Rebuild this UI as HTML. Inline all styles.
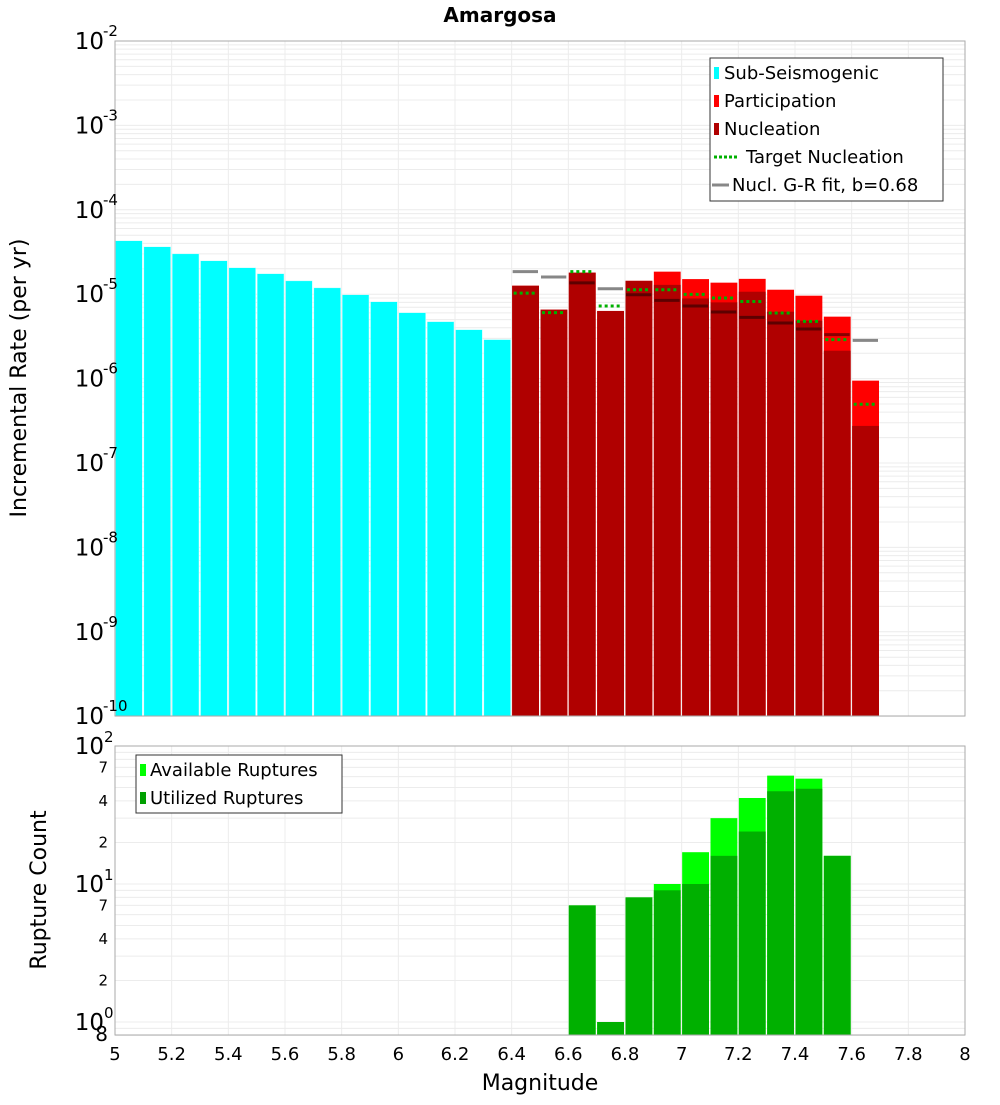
<!DOCTYPE html>
<html><head><meta charset="utf-8"><style>
body{margin:0;background:#fff;width:1000px;height:1100px;overflow:hidden}
svg text{font-family:"DejaVu Sans","Liberation Sans",sans-serif;fill:#000}
</style></head><body>
<svg id="c" width="1000" height="1100" xmlns="http://www.w3.org/2000/svg"></svg>
<script>
const subMags=[5.0,5.1,5.2,5.3,5.4,5.5,5.6,5.7,5.8,5.9,6.0,6.1,6.2,6.3];
const subRates=[4.30e-5,3.65e-5,3.01e-5,2.49e-5,2.06e-5,1.75e-5,1.44e-5,1.19e-5,9.86e-6,8.15e-6,6.04e-6,4.73e-6,3.80e-6,2.90e-6];
const supMags=[6.4,6.5,6.6,6.7,6.8,6.9,7.0,7.1,7.2,7.3,7.4,7.5,7.6];
const partRates=[1.26e-5,6.56e-6,1.80e-5,6.33e-6,1.44e-5,1.85e-5,1.51e-5,1.37e-5,1.52e-5,1.13e-5,9.6e-6,5.42e-6,9.46e-7];
const nuclRates=[1.26e-5,6.56e-6,1.80e-5,6.33e-6,1.44e-5,1.29e-5,8.9e-6,8.0e-6,1.07e-5,6.2e-6,4.86e-6,2.14e-6,2.75e-7];
const targetRates=[1.03e-5,6.04e-6,1.85e-5,7.25e-6,1.13e-5,1.13e-5,9.95e-6,9.0e-6,8.2e-6,5.98e-6,4.77e-6,2.90e-6,4.97e-7];
const grRates=[1.85e-5,1.60e-5,1.36e-5,1.16e-5,9.86e-6,8.45e-6,7.25e-6,6.15e-6,5.32e-6,4.56e-6,3.87e-6,3.32e-6,2.84e-6];
const cntMags=[6.6,6.7,6.8,6.9,7.0,7.1,7.2,7.3,7.4,7.5];
const availCounts=[7,1,8,10,17,30,42,61,58,16];
const usedCounts=[7,1,8,9,10,16,24,47,49,16];
const xTicks=[5,5.2,5.4,5.6,5.8,6,6.2,6.4,6.6,6.8,7,7.2,7.4,7.6,7.8,8];

const S=document.getElementById('c'),NS='http://www.w3.org/2000/svg';
function el(t,a,p){const e=document.createElementNS(NS,t);for(const k in a)e.setAttribute(k,a[k]);(p||S).appendChild(e);return e;}
const X0=115,X1=965;
const xs=m=>X0+(m-5)/3*(X1-X0);
const yTop=v=>41+(-2-Math.log10(v))*84.4;
const yBot=v=>1022-138*Math.log10(v);

// title
let t=el('text',{x:500,y:22,'text-anchor':'middle','font-size':20,'font-weight':'bold'});t.textContent='Amargosa';


// top grid
let g=el('g',{});
for(let d=-10;d<-2;d++)for(let k=1;k<10;k++){const y=yTop(k*Math.pow(10,d));el('line',{x1:X0,x2:X1,y1:y,y2:y,stroke:'#ececec','stroke-width':1},g);}
xTicks.forEach(m=>el('line',{x1:xs(m),x2:xs(m),y1:41,y2:716,stroke:'#ececec'},g));
// bottom grid
let g2=el('g',{});
for(let d=-1;d<2;d++)for(let k=1;k<10;k++){const v=k*Math.pow(10,d);if(v<0.8)continue;const y=yBot(v);el('line',{x1:X0,x2:X1,y1:y,y2:y,stroke:'#ececec'},g2);}
xTicks.forEach(m=>el('line',{x1:xs(m),x2:xs(m),y1:746,y2:1035,stroke:'#ececec'},g2));

const bw=xs(5.1)-xs(5);
// cyan bars
subMags.forEach((m,i)=>{const y=yTop(subRates[i]);const r=el('rect',{x:xs(m)+0.5,y:y,width:bw-1.5,height:716-y,fill:'#00ffff',stroke:'#d0ffff','stroke-width':0.5});
});
supMags.forEach((m,i)=>{const y=yTop(partRates[i]);const r=el('rect',{x:xs(m)+0.5,y:y,width:bw-1.5,height:716-y,fill:'#ff0000'});
});
supMags.forEach((m,i)=>{const y=yTop(nuclRates[i]);const r=el('rect',{x:xs(m)+0.5,y:y,width:bw-1.5,height:716-y,fill:'#b00000'});
});
supMags.forEach((m,i)=>{const y=yTop(grRates[i]);const l=el('line',{x1:xs(m)+1,x2:xs(m)+bw-2,y1:y,y2:y,stroke:'rgba(0,0,0,0.47)','stroke-width':3});
});
supMags.forEach((m,i)=>{const y=yTop(targetRates[i]);const l=el('line',{x1:xs(m)+2,x2:xs(m)+bw-3,y1:y,y2:y,stroke:'#00b000','stroke-width':3,'stroke-dasharray':'3,3'});
});

// bottom bars
cntMags.forEach((m,i)=>{const y=yBot(availCounts[i]);const r=el('rect',{x:xs(m)+0.5,y:y,width:bw-1.5,height:1035-y,fill:'#00ff00'});
});
cntMags.forEach((m,i)=>{const y=yBot(usedCounts[i]);const r=el('rect',{x:xs(m)+0.5,y:y,width:bw-1.5,height:1035-y,fill:'#00b000'});
});

// frames
el('rect',{x:X0,y:41,width:X1-X0,height:675,fill:'none',stroke:'#aaa'});
el('rect',{x:X0,y:746,width:X1-X0,height:289,fill:'none',stroke:'#aaa'});

// top y labels
for(let d=-2;d>=-10;d--){const y=yTop(Math.pow(10,d));const tx=el('text',{x:104,y:y+8,'text-anchor':'end','font-size':23});tx.textContent='10';

const ex=el('text',{x:103,y:y-5,'font-size':15});ex.textContent=String(d);}
// bottom y labels
[[100,'2'],[10,'1'],[1,'0']].forEach(([v,e])=>{const y=yBot(v);const tx=el('text',{x:104,y:y+8,'text-anchor':'end','font-size':23});tx.textContent='10';

const ex=el('text',{x:104,y:y-4,'font-size':15});ex.textContent=e;});
[7,4,2,70,40,20].forEach(v=>{const tx=el('text',{x:108,y:yBot(v)+5,'text-anchor':'end','font-size':15});tx.textContent=String(v>9?v/10:v);});
t=el('text',{x:108,y:1041,'text-anchor':'end','font-size':20});t.textContent='8';

// x labels
xTicks.forEach(m=>{const tx=el('text',{x:xs(m),y:1060,'text-anchor':'middle','font-size':18});tx.textContent=String(m);
});
t=el('text',{x:540,y:1090,'text-anchor':'middle','font-size':22});t.textContent='Magnitude';

t=el('text',{x:0,y:0,'text-anchor':'middle','font-size':22,transform:'translate(26,378) rotate(-90)'});t.textContent='Incremental Rate (per yr)';

t=el('text',{x:0,y:0,'text-anchor':'middle','font-size':22,transform:'translate(46,890) rotate(-90)'});t.textContent='Rupture Count';


// legends
let lg=el('g',{});
el('rect',{x:710,y:58,width:233,height:143,fill:'#fff',stroke:'#333'},lg);
[['Sub-Seismogenic','#00ffff','sq'],['Participation','#ff0000','sq'],['Nucleation','#b00000','sq'],['Target Nucleation','#00b000','dot'],['Nucl. G-R fit, b=0.68','#888','line']].forEach((e,i)=>{
const y=73+i*28;
if(e[2]=='sq'){el('rect',{x:714,y:y-6,width:5,height:12,fill:e[1]},lg);const tx=el('text',{x:724,y:y+6,'font-size':18},lg);tx.textContent=e[0];}
else if(e[2]=='dot'){el('line',{x1:714,x2:739,y1:y,y2:y,stroke:e[1],'stroke-width':3,'stroke-dasharray':'3,2'},lg);const tx=el('text',{x:746,y:y+6,'font-size':18},lg);tx.textContent=e[0];}
else{el('line',{x1:712,x2:729,y1:y,y2:y,stroke:e[1],'stroke-width':3},lg);const tx=el('text',{x:732,y:y+6,'font-size':18},lg);tx.textContent=e[0];}});
let lg2=el('g',{});
el('rect',{x:136,y:755,width:206,height:58,fill:'#fff',stroke:'#333'},lg2);
[['Available Ruptures','#00ff00'],['Utilized Ruptures','#00a000']].forEach((e,i)=>{const y=770+i*28;
el('rect',{x:140,y:y-6,width:6,height:12,fill:e[1]},lg2);const tx=el('text',{x:150,y:y+6,'font-size':18},lg2);tx.textContent=e[0];});
</script>
</body></html>
